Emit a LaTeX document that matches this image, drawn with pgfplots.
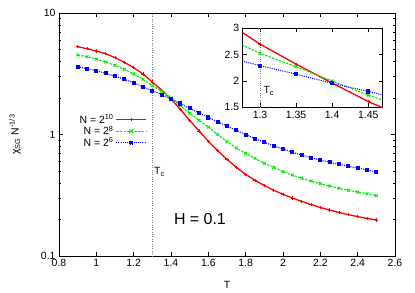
\documentclass[border=0pt]{standalone}
\usepackage{pgfplots}
\pgfplotsset{compat=1.18}
\usepackage{pgfplotstable}
\usepackage{fontspec}
\setmainfont{Liberation Sans}

\pgfplotstableread{
T r g b
0.90 5.28 4.51 3.61
0.95 5.08 4.37 3.48
1.00 4.87 4.18 3.35
1.05 4.62 3.95 3.19
1.10 4.29 3.71 3.01
1.15 3.93 3.44 2.85
1.20 3.55 3.15 2.67
1.25 3.15 2.85 2.47
1.30 2.70 2.525 2.29
1.35 2.32 2.27 2.13
1.40 1.96 2.00 1.955
1.45 1.61 1.73 1.80
1.50 1.31 1.50 1.64
1.55 1.07 1.31 1.51
1.60 0.88 1.15 1.38
1.65 0.735 1.00 1.27
1.70 0.624 0.875 1.17
1.75 0.537 0.775 1.08
1.80 0.470 0.700 0.995
1.85 0.420 0.637 0.925
1.90 0.380 0.579 0.862
1.95 0.348 0.537 0.807
2.00 0.322 0.494 0.760
2.05 0.300 0.464 0.714
2.10 0.282 0.436 0.678
2.15 0.265 0.414 0.644
2.20 0.251 0.394 0.617
2.25 0.239 0.377 0.590
2.30 0.228 0.361 0.569
2.35 0.219 0.347 0.548
2.40 0.211 0.336 0.530
2.45 0.204 0.326 0.511
2.50 0.198 0.313 0.491
}\data

\definecolor{gred}{RGB}{255,0,0}
\definecolor{ggreen}{RGB}{0,235,0}
\definecolor{gblue}{RGB}{0,0,255}

\pgfplotsset{
  redstyle/.style={color=gred, line width=1.3pt, mark=+, mark size=1.6pt, mark options={solid, line width=0.8pt, gred}},
  greenstyle/.style={color=ggreen, line width=1.1pt, dash pattern=on 2.5pt off 1.2pt, mark=x, mark size=2pt, mark options={solid, line width=0.9pt, ggreen}},
  bluestyle/.style={color=gblue, line width=1.1pt, dash pattern=on 1pt off 1.2pt, mark=square*, mark size=1.5pt, mark options={solid, gblue}},
  gpaxis/.style={
    scale only axis,
    axis line style={line width=0.7pt},
    tick align=inside,
    major tick length=4bp,
    minor tick length=2bp,
    tick style={line width=0.5pt, black},
    /pgf/number format/assume math mode=true,
    tick label style={font=\fontsize{10.5}{12}\selectfont},
    label style={font=\fontsize{10.5}{12}\selectfont},
  }
}

\begin{document}
\begin{tikzpicture}
\path (-59bp,-35bp) rectangle (356bp,256bp);
\begin{axis}[gpaxis,
  name=main,
  width=336bp, height=243bp,
  xmin=0.8, xmax=2.6,
  ymode=log, ymin=0.1, ymax=10,
  xtick={0.8,1,1.2,1.4,1.6,1.8,2,2.2,2.4,2.6},
  xticklabels={0.8,1,1.2,1.4,1.6,1.8,2,2.2,2.4,2.6},
  ytick={0.1,1,10},
  yticklabels={0.1,1,10},
  xlabel={T},
  ylabel={χ\textsubscript{SG} N\textsuperscript{-1/3}},
  xlabel style={at={(axis description cs:0.5,-0.12)}, anchor=center},
  ylabel style={at={(axis description cs:-0.131,0.5)}, anchor=center},
  legend style={legend plot pos=right, draw=none, fill=none,
    at={(0.262,0.592)}, anchor=north east,
    font=\fontsize{10.5}{10.5}\selectfont, row sep=-3pt, inner sep=0pt},
  legend cell align=right,
]
\addplot[redstyle,
  legend image code/.code={\draw[gred, line width=1.3pt] (0bp,0bp) -- (30bp,0bp);
    \draw[gred, line width=0.8pt] (13.4bp,0bp) -- (16.6bp,0bp) (15bp,-1.6bp) -- (15bp,1.6bp);}]
  table[x=T,y=r] {\data};
\addlegendentry{N = 2\textsuperscript{10}}
\addplot[greenstyle,
  legend image code/.code={\draw[ggreen, line width=1.1pt, dash pattern=on 2.5pt off 1.2pt] (0bp,0bp) -- (30bp,0bp);
    \draw[ggreen, line width=0.9pt] (13bp,-2bp) -- (17bp,2bp) (13bp,2bp) -- (17bp,-2bp);}]
  table[x=T,y=g] {\data};
\addlegendentry{N = 2\textsuperscript{8}}
\addplot[bluestyle,
  legend image code/.code={\draw[gblue, line width=1.1pt, dash pattern=on 1pt off 1.2pt] (0bp,0bp) -- (30bp,0bp);
    \fill[gblue] (13.5bp,-1.5bp) rectangle (16.5bp,1.5bp);}]
  table[x=T,y=b] {\data};
\addlegendentry{N = 2\textsuperscript{6}}
\addplot[gray, line width=0.4pt, dotted, forget plot] coordinates {(1.3,0.1) (1.3,10)};
\node[anchor=west, inner sep=0pt, font=\fontsize{10.5}{12}\selectfont] at (axis cs:1.309,0.49) {T\textsubscript{c}};
\node[anchor=center, inner sep=0pt, font=\fontsize{16}{18}\selectfont] at (axis cs:1.555,0.2017) {H = 0.1};
\end{axis}
\begin{axis}[gpaxis,
  at={(183.7bp,148.7bp)}, anchor=south west,
  width=140bp, height=79bp,
  xmin=1.276, xmax=1.47,
  ymin=1.5, ymax=3,
  xtick={1.3,1.35,1.4,1.45},
  xticklabels={1.3,1.35,1.4,1.45},
  ytick={1.5,2,2.5,3},
  yticklabels={1.5,2,2.5,3},
  minor y tick num=0,
  axis background/.style={fill=white},
  clip=true,
]
\addplot[gray, line width=0.4pt, dotted] coordinates {(1.3,1.5) (1.3,3)};
\addplot[redstyle] table[x=T,y=r] {\data};
\addplot[greenstyle] table[x=T,y=g] {\data};
\addplot[bluestyle] table[x=T,y=b] {\data};
\node[anchor=west, inner sep=0pt, font=\fontsize{10.5}{12}\selectfont] at (axis cs:1.3046,1.81) {T\textsubscript{c}};
\end{axis}
\end{tikzpicture}
\end{document}
